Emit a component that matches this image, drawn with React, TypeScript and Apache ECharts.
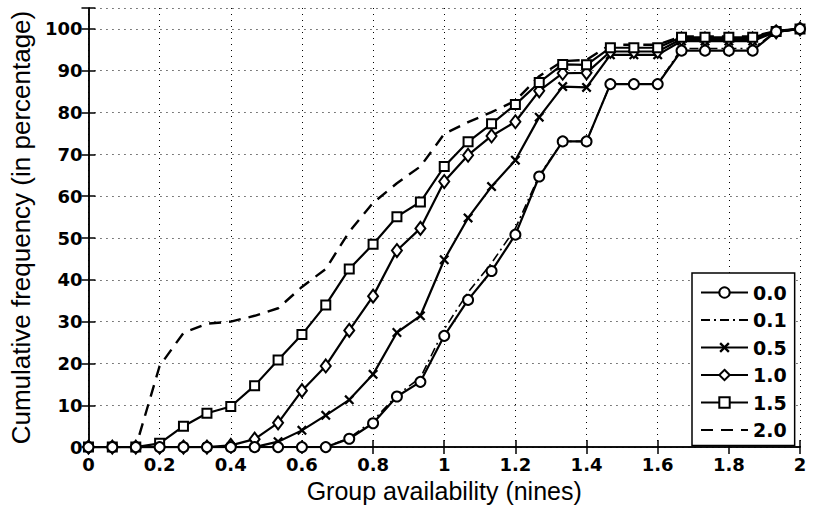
import React, { useEffect, useRef } from "react";
import * as echarts from "echarts";

const xValues = [0, 0.067, 0.133, 0.2, 0.267, 0.333, 0.4, 0.467, 0.533, 0.6, 0.667, 0.733, 0.8, 0.867, 0.933, 1, 1.067, 1.133, 1.2, 1.267, 1.333, 1.4, 1.467, 1.533, 1.6, 1.667, 1.733, 1.8, 1.867, 1.933, 2];

const s00 = [0, 0, 0, 0, 0, 0, 0, 0, 0, 0, 0, 2.0, 5.7, 12.1, 15.6, 26.6, 35.2, 42.1, 50.8, 64.7, 73.1, 73.1, 86.8, 86.8, 86.8, 94.8, 94.8, 94.8, 94.8, 99.4, 100];
const s01 = [0, 0, 0, 0, 0, 0, 0, 0, 0, 0, 0, 2.2, 6.3, 12.4, 16.6, 28.2, 37.0, 44.0, 52.3, 65.0, 73.1, 73.1, 86.8, 86.8, 86.8, 95.3, 95.3, 95.3, 95.3, 99.4, 100];
const s05 = [0, 0, 0, 0, 0, 0, 0, 0, 1.3, 4.0, 7.6, 11.3, 17.4, 27.4, 31.4, 44.8, 54.8, 62.3, 68.6, 78.9, 86.2, 86.0, 93.8, 93.8, 93.8, 97.1, 97.1, 97.1, 97.1, 99.3, 100];
const s10 = [0, 0, 0, 0, 0, 0, 0.4, 1.9, 5.8, 13.5, 19.4, 27.9, 36.1, 47.0, 52.3, 63.5, 69.8, 74.4, 77.8, 85.2, 89.4, 89.5, 94.6, 94.6, 94.6, 97.6, 97.6, 97.6, 97.6, 99.3, 100];
const s15 = [0, 0, 0, 0.9, 5.0, 8.1, 9.7, 14.7, 20.8, 26.9, 34.0, 42.6, 48.5, 55.1, 58.6, 67.1, 73.0, 77.3, 81.9, 87.2, 91.5, 91.4, 95.5, 95.5, 95.5, 98.0, 98.0, 98.0, 98.0, 99.4, 100];
const s20 = [0, 0, 0, 19.4, 27.3, 29.5, 30.0, 31.4, 33.2, 38.3, 42.6, 51.5, 58.4, 63.1, 67.1, 74.9, 77.7, 80.1, 82.8, 88.7, 92.3, 92.6, 96.2, 96.2, 96.2, 98.2, 98.2, 98.2, 98.2, 99.5, 100];

const seriesNames = ["0.0", "0.1", "0.5", "1.0", "1.5", "2.0"];
const noMarkerNames = ["0.1", "2.0"];

const crossPath = "path://M0,1.6L1.6,0L5,3.4L8.4,0L10,1.6L6.6,5L10,8.4L8.4,10L5,6.6L1.6,10L0,8.4L3.4,5Z";

const pairs = (ys: number[]) => xValues.map((x, i) => [x, ys[i]]);

export default function App() {
  const ref = useRef<HTMLDivElement>(null);
  useEffect(() => {
    if (!ref.current) return;
    const chart = echarts.init(ref.current, null, { renderer: "svg" });
    const tickFont = { fontFamily: "DejaVu Sans", fontWeight: "bold" as const, fontSize: 18, color: "#000" };
    const dotted = { show: true, lineStyle: { color: "#000", width: 1, type: [1, 5] as any } };
    const axisLine = { show: true, lineStyle: { color: "#000", width: 1.5 } };
    const tick = { show: true, inside: true, length: 7, lineStyle: { color: "#000", width: 1.5 } };
    const lineBase = { type: "line" as const, color: "#000", lineStyle: { color: "#000", width: 2.2 } };
    chart.setOption({
      animation: false,
      backgroundColor: "#fff",
      grid: { left: 83, right: 19, top: 8, bottom: 56 },
      legend: {
        orient: "vertical",
        left: 692,
        top: 273,
        width: 101,
        data: seriesNames.map((n) =>
          noMarkerNames.includes(n)
            ? { name: n, itemStyle: { opacity: 0, borderWidth: 0 } }
            : { name: n }
        ),
        itemWidth: 47,
        itemHeight: 13,
        itemGap: 8.5,
        padding: [10, 8, 6, 8],
        backgroundColor: "#fff",
        borderColor: "#000",
        borderWidth: 1.5,
        textStyle: { ...tickFont, fontSize: 19 },
      },
      xAxis: [
        {
          type: "value",
          min: 0,
          max: 2,
          interval: 0.2,
          name: "Group availability (nines)",
          nameLocation: "middle",
          nameGap: 21,
          nameTextStyle: { fontFamily: "Liberation Sans", fontSize: 25, color: "#000" },
          axisLine,
          axisTick: tick,
          axisLabel: { ...tickFont, margin: 8 },
          splitLine: dotted,
        },
        {
          type: "value",
          position: "top",
          min: 0,
          max: 2,
          interval: 0.2,
          axisLine,
          axisTick: tick,
          axisLabel: { show: false },
          splitLine: { show: false },
        },
      ],
      yAxis: [
        {
          type: "value",
          min: 0,
          max: 105,
          interval: 10,
          name: "Cumulative frequency (in percentage)",
          nameLocation: "middle",
          nameGap: 46,
          nameTextStyle: { fontFamily: "Liberation Sans", fontSize: 26, color: "#000" },
          axisLine,
          axisTick: tick,
          axisLabel: { ...tickFont, margin: 6, formatter: (v: number) => (v > 100 ? "" : String(v)) },
          splitLine: dotted,
        },
        {
          type: "value",
          position: "right",
          min: 0,
          max: 105,
          interval: 10,
          axisLine,
          axisTick: tick,
          axisLabel: { show: false },
          splitLine: { show: false },
        },
      ],
      series: [
        {
          ...lineBase,
          name: "2.0",
          data: pairs(s20),
          symbol: "none",
          lineStyle: { color: "#000", width: 2.4, type: [12, 8] },
          z: 2,
        },
        {
          ...lineBase,
          name: "0.1",
          data: pairs(s01),
          symbol: "none",
          lineStyle: { color: "#000", width: 1.6, type: [9, 4, 2, 4] },
          z: 2,
        },
        {
          ...lineBase,
          name: "0.5",
          data: pairs(s05),
          symbol: crossPath,
          symbolSize: 10,
          itemStyle: { color: "#000", borderWidth: 0 },
          z: 3,
        },
        {
          ...lineBase,
          name: "1.0",
          data: pairs(s10),
          symbol: "emptyDiamond",
          symbolSize: [10, 13],
          itemStyle: { color: "#000", borderWidth: 2 },
          z: 4,
        },
        {
          ...lineBase,
          name: "1.5",
          data: pairs(s15),
          symbol: "emptyRect",
          symbolSize: 9,
          itemStyle: { color: "#000", borderWidth: 2 },
          z: 5,
        },
        {
          ...lineBase,
          name: "0.0",
          data: pairs(s00),
          symbol: "emptyCircle",
          symbolSize: 10,
          itemStyle: { color: "#000", borderWidth: 2 },
          z: 6,
        },
      ],
    });
    return () => chart.dispose();
  }, []);
  return <div ref={ref} style={{ width: 819, height: 508, position: "absolute", left: 0, top: 0 }} />;
}
